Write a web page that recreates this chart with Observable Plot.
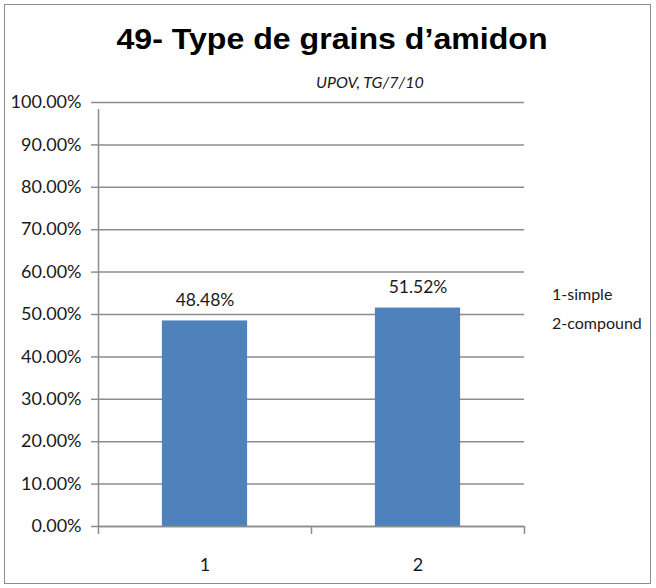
<!DOCTYPE html>
<html>
<head>
<meta charset="utf-8">
<script src="https://cdn.jsdelivr.net/npm/d3@7"></script>
<script src="https://cdn.jsdelivr.net/npm/@observablehq/plot@0.6"></script>
<style>
  html, body { margin: 0; padding: 0; background: #fff; }
  #wrap { position: relative; width: 656px; height: 588px; overflow: hidden; }
  #frame { position: absolute; left: 4px; top: 4px; width: 647px; height: 580px; border: 1.5px solid #8c8c8c; box-sizing: border-box; }
  #title { position: absolute; left: 0; width: 664px; top: 24px; line-height: 30px; text-align: center; font-family: "Liberation Sans", Arial, sans-serif; font-weight: bold; font-size: 30px; color: #000; transform: scaleX(1.07); transform-origin: 332px 0; }
  #subtitle { position: absolute; left: 316px; top: 72px; line-height: 20px; font-family: Lato, sans-serif; font-style: italic; font-size: 16px; color: #1a1a1a; }
  .legend { position: absolute; left: 552px; line-height: 22px; font-family: Lato, sans-serif; font-size: 16px; color: #1a1a1a; }
  #chart { position: absolute; left: 0; top: 0; }
</style>
</head>
<body>
<div id="wrap">
  <div id="frame"></div>
  <div id="chart"></div>
  <div id="title">49- Type de grains d’amidon</div>
  <div id="subtitle">UPOV, TG/7/10</div>
  <div id="legend"></div>
</div>
<script>
const categories = ["1", "2"];
const values = [0.4848, 0.5152];
const valueLabels = ["48.48%", "51.52%"];
const yTicks = [0, 0.1, 0.2, 0.3, 0.4, 0.5, 0.6, 0.7, 0.8, 0.9, 1.0];
const legendLabels = ["1-simple", "2-compound"];

const data = categories.map((c, i) => ({pos: i + 1, cat: c, value: values[i], label: valueLabels[i]}));
const boundaries = [0.5, ...data.map(d => d.pos + 0.5)];
const gray = "#8c8c8c";
const font = "Lato, sans-serif";

const chart = Plot.plot({
  width: 656,
  height: 588,
  marginLeft: 98,
  marginRight: 132,
  marginTop: 102,
  marginBottom: 62,
  style: {fontFamily: font, fontSize: "18px", color: "#1a1a1a", background: "transparent", overflow: "visible"},
  x: {type: "linear", domain: [0.5, categories.length + 0.5]},
  y: {domain: [0, 1]},
  marks: [
    Plot.gridY(yTicks, {stroke: gray, strokeOpacity: 1, strokeWidth: 1.5}),
    Plot.axisY({ticks: yTicks, tickFormat: d3.format(".2%"), tickSize: 7, tickPadding: 10, stroke: gray, strokeWidth: 1.5, fontSize: 18, fill: "#1a1a1a", label: null}),
    Plot.rectY(data, {x1: d => d.pos - 0.2, x2: d => d.pos + 0.2, y: "value", fill: "#4f81bd"}),
    Plot.ruleX([0.5], {y1: 0, y2: 1, stroke: gray, strokeWidth: 1.5, insetBottom: -7}),
    Plot.ruleY([0], {stroke: gray, strokeWidth: 1.5}),
    Plot.axisX({ticks: boundaries, tickFormat: () => "", tickSize: 8, stroke: gray, strokeWidth: 1.5, label: null}),
    Plot.axisX({ticks: data.map(d => d.pos), tickFormat: p => categories[p - 1], tickSize: 0, tickPadding: 32, fontSize: 18, fill: "#1a1a1a", label: null}),
    Plot.text(data, {x: "pos", y: "value", text: "label", dy: -21, fontSize: 17.5, fill: "#1a1a1a"})
  ]
});
document.getElementById("chart").appendChild(chart);

const leg = document.getElementById("legend");
legendLabels.forEach((t, i) => {
  const el = document.createElement("div");
  el.className = "legend";
  el.style.top = (283 + i * 29) + "px";
  el.textContent = t;
  leg.appendChild(el);
});
</script>
</body>
</html>
